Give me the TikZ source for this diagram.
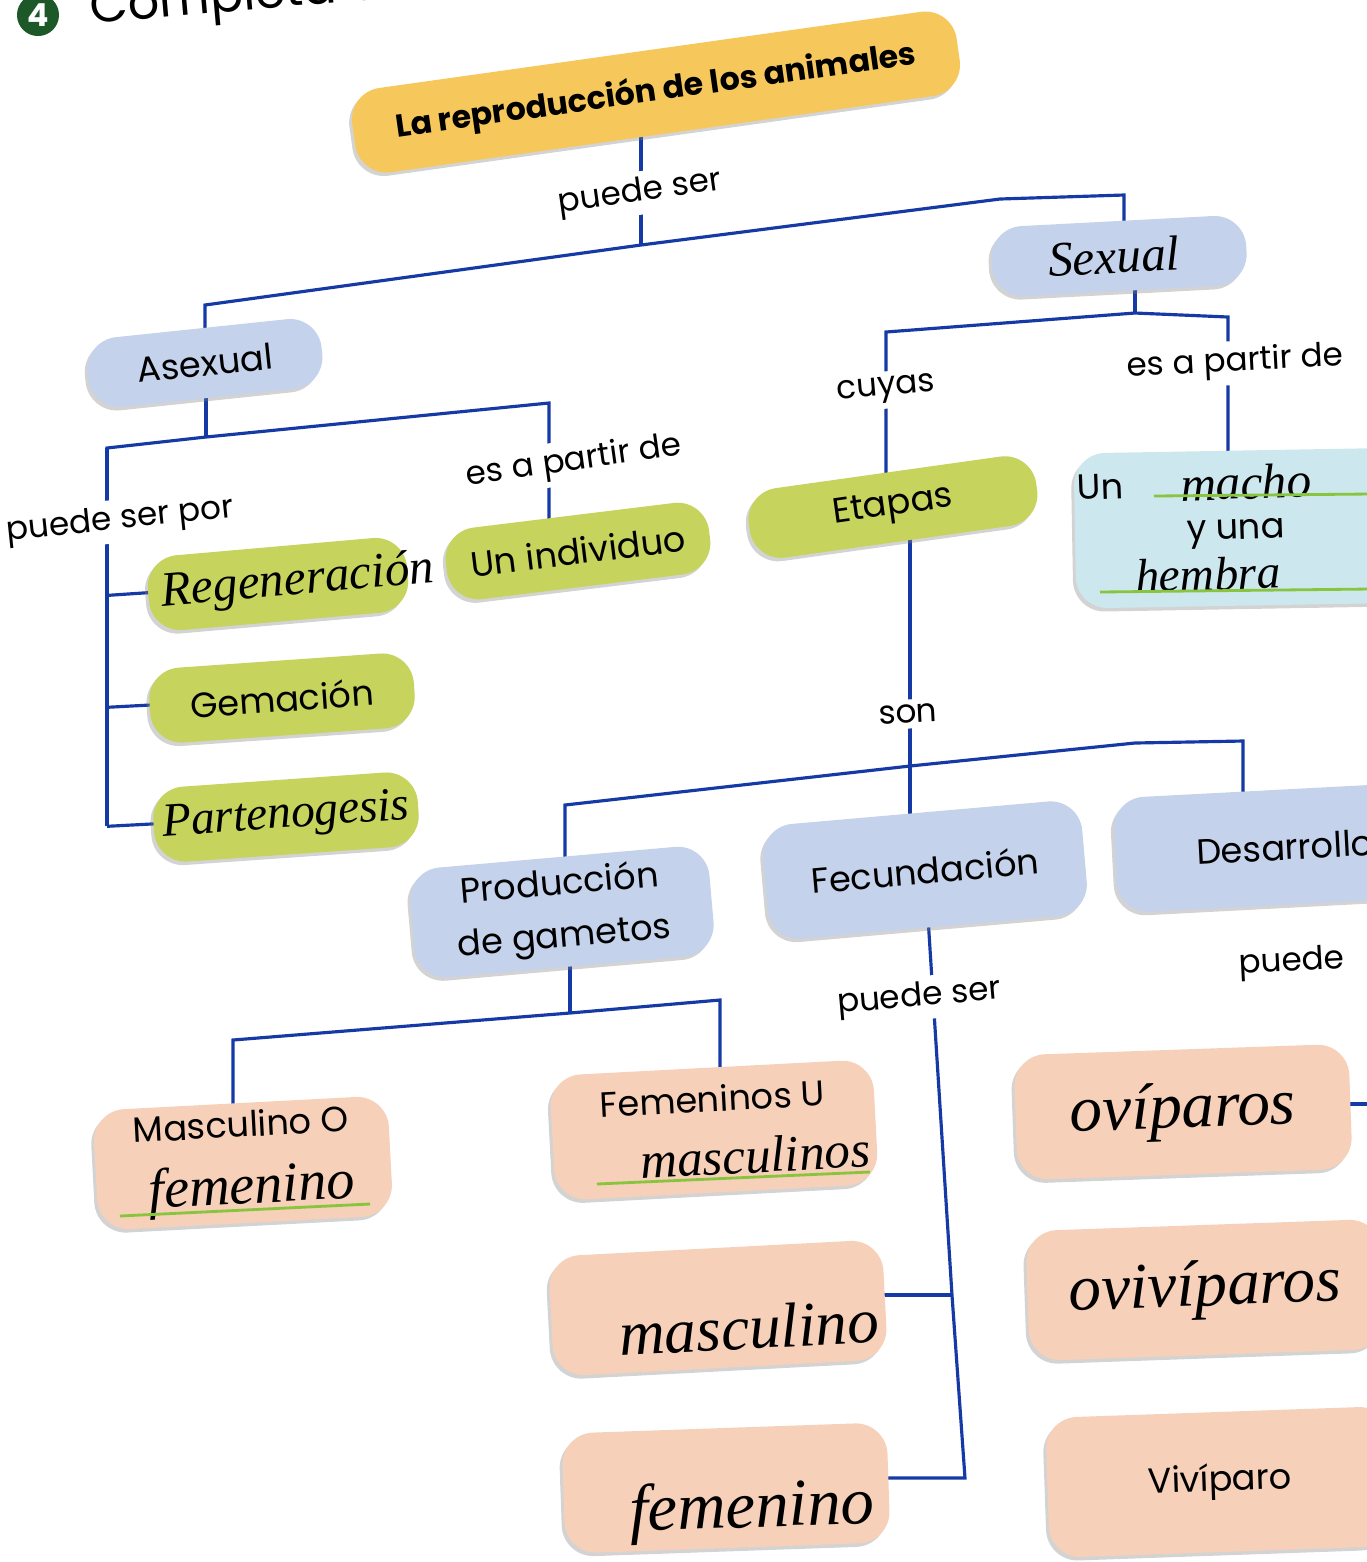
\documentclass[tikz,border=0pt]{standalone}
\usepackage{fontspec}
\setmainfont{Poppins}
\newfontfamily\handfont{Liberation Serif}
\usetikzlibrary{shadows}
\pgfdeclarelayer{background}
\pgfsetlayers{background,main}
\definecolor{mapLine}{RGB}{22, 58, 165}
\definecolor{mapTitle}{RGB}{246, 200, 92}
\definecolor{mapBlue}{RGB}{196, 210, 236}
\definecolor{mapGreen}{RGB}{198, 211, 92}
\definecolor{mapPeach}{RGB}{246, 208, 184}
\definecolor{mapCyan}{RGB}{204, 232, 238}
\definecolor{mapPen}{RGB}{136, 196, 62}
\definecolor{mapBadge}{RGB}{28, 88, 40}

\begin{document}
\begin{tikzpicture}[
        x=0.01cm,
        y=-0.01cm,
        concept/.style={rounded corners=9pt, inner sep=2pt, align=center, font=\fontsize{10}{13}\selectfont,
            drop shadow={shadow xshift=-0.8pt, shadow yshift=-1pt, opacity=0.35}},
        blueconcept/.style={concept, fill=mapBlue},
        greenconcept/.style={concept, fill=mapGreen},
        peachconcept/.style={concept, fill=mapPeach},
        linkword/.style={font=\fontsize{9.3}{11}\selectfont, fill=white, inner sep=1.5pt},
        link/.style={draw=mapLine, line width=0.9pt},
        hand/.style={font=\handfont\itshape\fontsize{#1}{#1}\selectfont},
        hand/.default=14,
        penline/.style={draw=mapPen, line width=0.8pt}
    ]
        \useasboundingbox (0,0) rectangle (1367,1562);

        \node[circle, fill=mapBadge, text=white, font=\bfseries\small, inner sep=0pt, minimum size=0.42cm] (badge) at (38,15) {4};
        \node[anchor=west, rotate=5, font=\fontsize{14}{16}\selectfont] (instr) at (78,13) {Completa el};

        % linking words
        \node[linkword, rotate=8] (lblSer) at (640,193) {puede ser};
        \node[linkword, rotate=6] (lblPor) at (120,521) {puede ser por};
        \node[linkword, rotate=8] (lblPartirA) at (574,462) {es a partir de};
        \node[linkword, rotate=5] (lblCuyas) at (886,390) {cuyas};
        \node[linkword, rotate=3] (lblPartirB) at (1235,363) {es a partir de};
        \node[linkword, rotate=3] (lblSon) at (908,714) {son};
        \node[linkword, rotate=5] (lblSerFec) at (919,998) {puede ser};
        \node[linkword, rotate=3] (lblPuede) at (1292,963) {puede};

        % concepts
        \node[concept, fill=mapTitle, minimum width=6.1cm, minimum height=0.85cm, rotate=8,
            font=\bfseries\fontsize{9}{11}\selectfont] (title) at (656,92) {La reproducción de los animales};
        \node[blueconcept, minimum width=2.35cm, minimum height=0.7cm, rotate=6] (asexual) at (205,363) {Asexual};
        \node[blueconcept, hand, minimum width=2.55cm, minimum height=0.7cm, rotate=3] (sexual) at (1119,256) {\hspace*{-0.1cm}Sexual};

        \node[greenconcept, hand, minimum width=2.6cm, minimum height=0.75cm, rotate=5] (regeneracion) at (278,584) {\makebox[0pt]{\hspace*{0.4cm}Regeneración}};
        \node[greenconcept, minimum width=2.65cm, minimum height=0.75cm, rotate=4] (gemacion) at (282,698) {Gemación};
        \node[greenconcept, hand=13.5, minimum width=2.65cm, minimum height=0.75cm, rotate=4] (partenogenesis) at (286,817) {Partenogesis};
        \node[greenconcept, minimum width=2.65cm, minimum height=0.72cm, rotate=7] (individuo) at (578,551) {Un individuo};
        \node[greenconcept, minimum width=2.9cm, minimum height=0.7cm, rotate=8] (etapas) at (893,507) {Etapas};
        \node[concept, fill=mapCyan, minimum width=3.4cm, minimum height=1.55cm, rotate=1] (pareja) at (1245,528) {};

        \node[blueconcept, minimum width=3.0cm, minimum height=1.1cm, rotate=5] (produccion) at (562,912) {Producción\\[2pt]de gametos};
        \node[blueconcept, minimum width=3.2cm, minimum height=1.15cm, rotate=5] (fecundacion) at (925,870) {Fecundación};
        \node[blueconcept, minimum width=3.4cm, minimum height=1.15cm, rotate=3] (desarrollo) at (1285,847) {Desarrollo};

        \node[peachconcept, minimum width=2.95cm, minimum height=1.2cm, rotate=3] (mascO) at (243,1163)
            {Masculino O\\[6pt]{\handfont\itshape\fontsize{16}{16}\selectfont\hspace*{0.15cm}femenino}};
        \node[peachconcept, minimum width=3.1cm, minimum height=1.25cm, rotate=3] (femU) at (714,1130)
            {Femeninos U\\[5pt]{\handfont\itshape\fontsize{14.5}{15}\selectfont\hspace*{0.8cm}masculinos}};
        \node[peachconcept, hand=18, minimum width=3.2cm, minimum height=1.2cm, text height=0.85cm, text depth=0cm, rotate=3] (masculino) at (718,1308) {\hspace*{0.6cm}masculino};
        \node[peachconcept, hand=19, minimum width=3.25cm, minimum height=1.2cm, text height=0.8cm, text depth=0cm, rotate=2] (femenino) at (726,1488) {\hspace*{0.5cm}femenino};

        \node[peachconcept, hand=18.5, minimum width=3.35cm, minimum height=1.25cm, rotate=2] (oviparos) at (1183,1112) {ovíparos};
        \node[peachconcept, hand=18.5, minimum width=3.55cm, minimum height=1.3cm, rotate=2] (ovoviviparos) at (1205,1290) {ovivíparos};
        \node[peachconcept, minimum width=3.45cm, minimum height=1.4cm, rotate=2] (viviparo) at (1220,1482) {Vivíparo};

        % text written in the blue-green box
        \node[font=\fontsize{10}{12}\selectfont, rotate=2] (parejaUn) at (1100,487) {Un};
        \node[hand=14, rotate=2] (parejaMacho) at (1246,482) {macho};
        \node[font=\fontsize{10}{12}\selectfont, rotate=2] (parejaUna) at (1236,534) {y una};
        \node[hand=13.5, rotate=2] (parejaHembra) at (1208,574) {hembra};

        \draw[penline] (1154,496) -- (1370,494);
        \draw[penline] (1100,592) -- (1370,589);
        \draw[penline] (120,1216) -- (370,1204);
        \draw[penline] (597,1184) -- (870,1172);

        % connectors
        \coordinate (jTop) at (641,245);
        \coordinate (jAsex) at (205,305);
        \coordinate (jSexBend) at (1000,199);
        \coordinate (jSex) at (1124,195);
        \coordinate (jAsexMid) at (206,437);
        \coordinate (jPor) at (107,448);
        \coordinate (jIndiv) at (549,403);
        \coordinate (jSexMid) at (1135,313);
        \coordinate (jEtapas) at (886,332);
        \coordinate (jPareja) at (1228,317);
        \coordinate (jSon) at (910,766);
        \coordinate (jProd) at (565,805);
        \coordinate (jDesBend) at (1135,743);
        \coordinate (jDes) at (1243,741);
        \coordinate (jGam) at (570,1013);
        \coordinate (jMascO) at (233,1040);
        \coordinate (jFemU) at (720,1000);
        \coordinate (jFecA) at (952,1295);
        \coordinate (jFecB) at (965,1478);
        \coordinate (jOvi) at (1390,1104);

        \begin{pgfonlayer}{background}
            \draw[link] (jTop |- title.center) -- (jTop);
            \draw[link] (jAsex |- asexual.center) -- (jAsex) -- (jTop) -- (jSexBend) -- (jSex) -- (jSex |- sexual.center);

            \draw[link] (jAsexMid |- asexual.center) -- (jAsexMid);
            \draw[link] (jPor |- regeneracion.west) -- (jPor) -- (jAsexMid) -- (jIndiv) -- (jIndiv |- individuo.center);
            \draw[link] (jPor) -- (jPor |- partenogenesis.west);
            \foreach \n in {regeneracion, gemacion, partenogenesis} {
                \draw[link] (jPor |- \n.west) -- (\n.center);
            }

            \draw[link] (jSexMid |- sexual.center) -- (jSexMid);
            \draw[link] (jEtapas |- etapas.center) -- (jEtapas) -- (jSexMid) -- (jPareja) -- (jPareja |- pareja.center);

            \draw[link] (jSon |- etapas.center) -- (jSon) -- (jSon |- fecundacion.center);
            \draw[link] (jProd |- produccion.center) -- (jProd) -- (jSon) -- (jDesBend) -- (jDes) -- (jDes |- desarrollo.center);

            \draw[link] (jGam |- produccion.center) -- (jGam);
            \draw[link] (jMascO |- mascO.center) -- (jMascO) -- (jGam) -- (jFemU) -- (jFemU |- femU.center);

            \draw[link] (fecundacion.center) -- (jFecA) -- (jFecB) -- (jFecB -| femenino.center);
            \draw[link] (jFecA) -- (jFecA -| masculino.center);

            \draw[link] (jOvi -| oviparos.center) -- (jOvi);
        \end{pgfonlayer}
    \end{tikzpicture}
\end{document}
